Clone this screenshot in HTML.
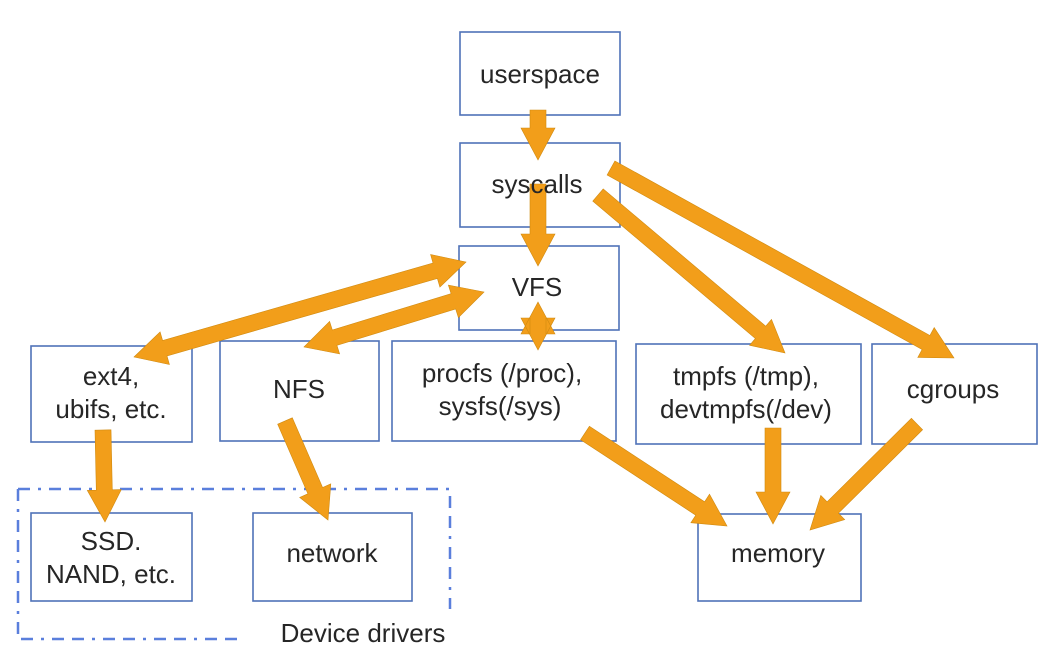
<!DOCTYPE html>
<html><head><meta charset="utf-8"><style>
html,body{margin:0;padding:0;background:#fff}
svg{display:block}
text{font-family:"Liberation Sans",sans-serif;font-size:26px;fill:#262626;text-anchor:middle}
</style></head><body>
<svg id="s" width="1046" height="652" viewBox="0 0 1046 652" xmlns="http://www.w3.org/2000/svg">
<g fill="#fff" stroke="#4f72b8" stroke-width="1.6">
<rect x="460" y="32" width="160" height="83"/>
<rect x="460" y="143" width="160" height="84"/>
<rect x="459" y="246" width="160" height="84"/>
<rect x="31" y="346" width="161" height="96"/>
<rect x="220" y="341" width="159" height="100"/>
<rect x="392" y="341" width="224" height="100"/>
<rect x="636" y="344" width="225" height="100"/>
<rect x="872" y="344" width="165" height="100"/>
<rect x="31" y="513" width="161" height="88"/>
<rect x="253" y="513" width="159" height="88"/>
<rect x="698" y="514" width="163" height="87"/>
</g>
<path d="M18 489 H450 V609 M18 489 V639 H245" fill="none" stroke="#5a7fdc" stroke-width="2.5" stroke-dasharray="12,8,3,8,12,8"/>
<g id="arrows" fill="#f29e1a" stroke="#d08a10" stroke-width="0.6"></g>
<text x="540" y="83">userspace</text>
<text x="537" y="193">syscalls</text>
<text x="537" y="296">VFS</text>
<text x="111" y="385">ext4,</text>
<text x="111" y="418">ubifs, etc.</text>
<text x="299" y="398">NFS</text>
<text x="502" y="382">procfs (/proc),</text>
<text x="500" y="415">sysfs(/sys)</text>
<text x="746" y="385">tmpfs (/tmp),</text>
<text x="746" y="418">devtmpfs(/dev)</text>
<text x="953" y="398">cgroups</text>
<text x="111" y="550">SSD.</text>
<text x="111" y="583">NAND, etc.</text>
<text x="332" y="562">network</text>
<text x="778" y="562">memory</text>
<text x="363" y="642" style="text-anchor:middle">Device drivers</text>
</svg>
<script>
var g=document.getElementById('arrows');
function arrow(x1,y1,x2,y2,dbl){
 var dx=x2-x1,dy=y2-y1,L=Math.hypot(dx,dy),ux=dx/L,uy=dy/L,nx=-uy,ny=ux;
 var w=8,hw=17,hl=32;
 function p(t,o){return (x1+ux*t+nx*o).toFixed(1)+','+(y1+uy*t+ny*o).toFixed(1);}
 var pts=[];
 if(dbl){pts.push(p(0,0),p(hl,hw),p(hl,w));}else{pts.push(p(0,w));}
 pts.push(p(L-hl,w),p(L-hl,hw),p(L,0),p(L-hl,-hw),p(L-hl,-w));
 if(dbl){pts.push(p(hl,-w),p(hl,-hw));}else{pts.push(p(0,-w));}
 var e=document.createElementNS('http://www.w3.org/2000/svg','polygon');
 e.setAttribute('points',pts.join(' '));g.appendChild(e);
}
arrow(538,110,538,160);
arrow(538,184,538,266);
arrow(598,195,785,353);
arrow(611,168,954,358);
arrow(466,262,134,357,1);
arrow(484,292,304,347,1);
arrow(538,302,538,350,1);
arrow(103,430,105,522);
arrow(285,421,328,520);
arrow(585,433,727,526);
arrow(773,428,773,524);
arrow(917,424,810,530);
</script>
</body></html>
